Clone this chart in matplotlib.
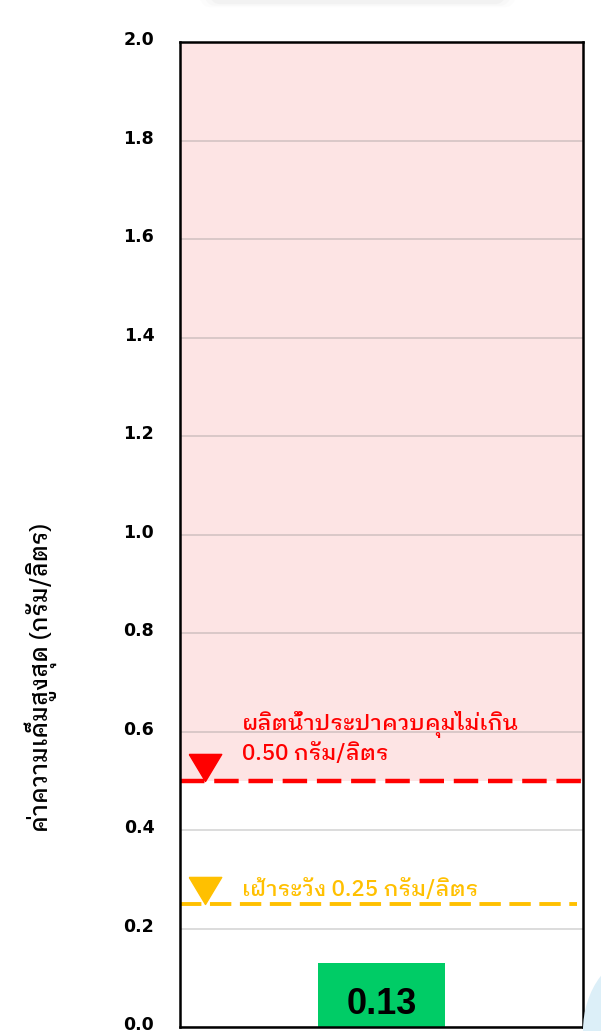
import matplotlib
matplotlib.use("Agg")
import matplotlib.pyplot as plt
import matplotlib.transforms as mtransforms
from matplotlib.markers import MarkerStyle
from matplotlib.patches import FancyBboxPatch, Ellipse

# salinity reading and thresholds (g/L)
categories = [""]
values = [0.13]
limit_value = 0.50
watch_value = 0.25
yticks = [0.0, 0.2, 0.4, 0.6, 0.8, 1.0, 1.2, 1.4, 1.6, 1.8, 2.0]

limit_label = "ผลิตน้ำประปาควบคุมไม่เกิน\n0.50 กรัม/ลิตร"
watch_label = "เฝ้าระวัง 0.25 กรัม/ลิตร"
ylabel = "ค่าความเค็มสูงสุด (กรัม/ลิตร)"

thai = ["IBM Plex Sans Thai Looped", "DejaVu Sans"]
plt.rcParams["font.family"] = ["DejaVu Sans"]

fig = plt.figure(figsize=(6.01, 10.31), dpi=100)

# soft card shadow at the top edge and the pale blue corner of the page
for i, a in enumerate([0.025, 0.04, 0.06]):
    fig.patches.append(FancyBboxPatch((0.33 + i * 0.008, 0.993 + i * 0.0015), 0.53 - i * 0.016, 0.03,
                                      boxstyle="round,pad=0,rounding_size=0.02",
                                      transform=fig.transFigure, color="#9a9a9a",
                                      alpha=a, lw=0, zorder=0))
fig.patches.append(Ellipse((1.07, 0.0), 0.2, 0.15, transform=fig.transFigure,
                           color="#DCEFF8", lw=0, zorder=0))

ax = fig.add_axes([0.2995, 0.0034, 0.6705, 0.9554])
ax.set_xlim(-0.5, 0.5)
ax.set_ylim(0, 2.0)

# shaded zone above the control limit
ax.axhspan(limit_value, 2.0, color="#FDE4E4", zorder=0, lw=0)
ax.set_yticks(yticks)
ax.yaxis.grid(True, color="#808080", alpha=0.3, lw=1.3, zorder=0.5)
ax.set_axisbelow(True)

bars = ax.bar(range(len(values)), values, width=0.315, color="#00CC66", zorder=2)
ax.set_xticks([])

for b, v in zip(bars, values):
    ax.text(b.get_x() + b.get_width() / 2, 0.046, f"{v:.2f}",
            ha="center", va="center", fontsize=26, fontweight="bold",
            family=["Liberation Sans", "DejaVu Sans"], color="black", zorder=3)

# threshold lines
ax.axhline(limit_value, color="#FF0000", lw=3.2, ls=(0, (5.5, 2.2)), zorder=3)
ax.axhline(watch_value, xmax=0.985, color="#FFC000", lw=2.8, ls=(0, (5.5, 2.2)), zorder=3)

# downward triangles sitting on each line
tri = MarkerStyle([(-0.6, 1.0), (0.6, 1.0), (0.0, 0.0), (-0.6, 1.0)])
bt = mtransforms.blended_transform_factory(ax.transAxes, ax.transData)
ax.plot([0.062], [limit_value], marker=tri, ms=39, color="#FF0000",
        lw=0, transform=bt, zorder=4)
ax.plot([0.062], [watch_value], marker=tri, ms=39, color="#FFC000",
        lw=0, transform=bt, zorder=4)

ax.text(0.154, limit_value + 0.088, limit_label, transform=bt, color="#FF0000",
        fontsize=16, fontweight="medium", family=thai, ha="left", va="center",
        linespacing=1.3, zorder=4)
ax.text(0.154, watch_value + 0.029, watch_label, transform=bt, color="#FFC000",
        fontsize=16, fontweight="medium", family=thai, ha="left", va="center", zorder=4)

ax.tick_params(axis="y", length=0, pad=18.5, labelsize=12.5)
for lbl in ax.get_yticklabels():
    lbl.set_fontweight("bold")
    lbl.set_transform(lbl.get_transform() +
                      mtransforms.ScaledTranslation(0, 4 / 100, fig.dpi_scale_trans))

for s in ax.spines.values():
    s.set_linewidth(1.8)
    s.set_color("black")
    s.set_zorder(5)

fig.text(0.067, 0.343, ylabel, rotation=90, ha="center", va="center",
         fontsize=17, fontweight="medium", family=thai, color="black")

fig.savefig("out.png", dpi=100)
